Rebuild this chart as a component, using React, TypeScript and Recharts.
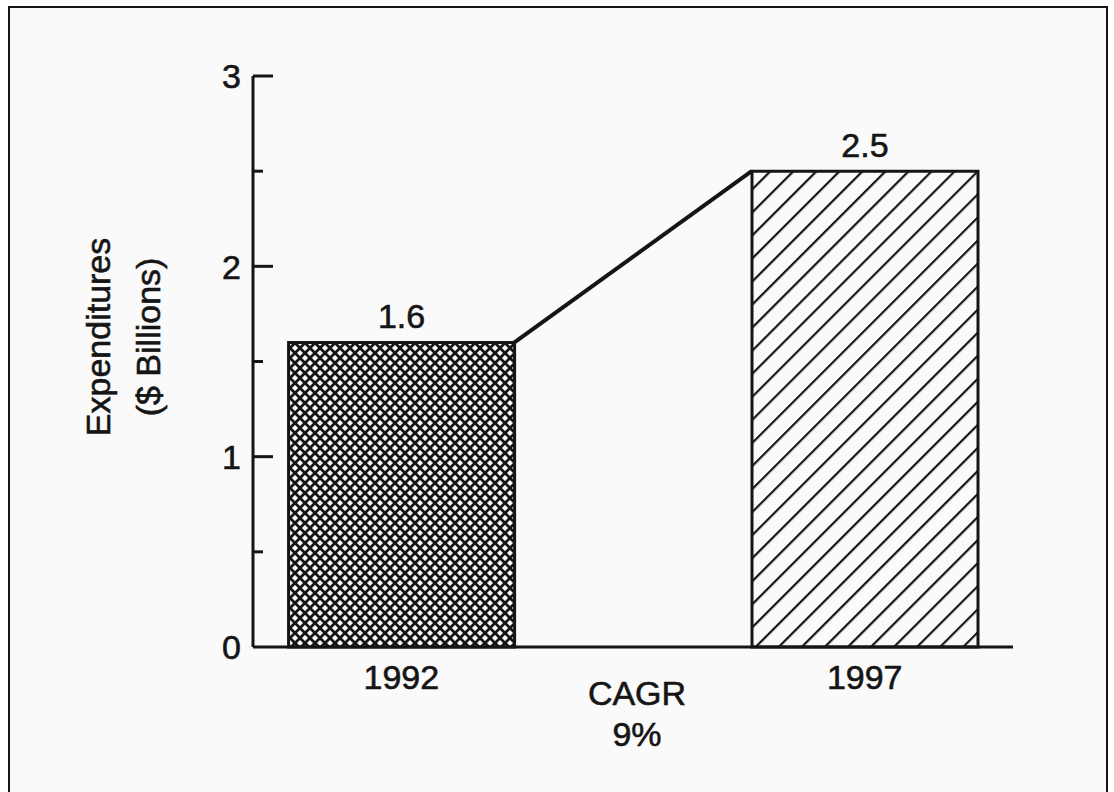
import React from "react";
import {
  ComposedChart,
  Bar,
  Cell,
  XAxis,
  YAxis,
  ReferenceLine,
  ReferenceDot,
  LabelList,
} from "recharts";

// values
const years = [1992, 1997];
const expenditures = [1.6, 2.5];
const yTicks = [0, 0.5, 1, 1.5, 2, 2.5, 3];
const cagrText = ["CAGR", "9%"];

const data = years.map((year, i) => ({ year, value: expenditures[i] }));

const FONT = "'Liberation Sans', Arial, Helvetica, sans-serif";
const INK = "#151515";
const PAPER = "#fafafa";
const FS = 34;
const TXT_STROKE = 0.6;
const BAR_SIZE = 226;
// half a bar expressed in years (plot is ~92.7px per year)
const HALF_BAR_YEARS = 1.22;
const Y_TICK_MARGIN = 12;

const YTick = (props: any) => {
  const { x, y, payload } = props;
  const axisX = x + Y_TICK_MARGIN;
  const v = payload.value;
  const major = Number.isInteger(v);
  return (
    <g>
      {v > 0 && (
        <line
          x1={axisX}
          x2={axisX + (major ? 20 : 10)}
          y1={y}
          y2={y}
          stroke={INK}
          strokeWidth={3}
        />
      )}
      {major && (
        <text
          x={x}
          y={y}
          dy="0.36em"
          textAnchor="end"
          fontSize={FS}
          fontFamily={FONT}
          fill={INK}
          stroke={INK}
          strokeWidth={TXT_STROKE}
        >
          {v}
        </text>
      )}
    </g>
  );
};

const XTick = (props: any) => {
  const { x, y, payload } = props;
  return (
    <text
      x={x}
      y={y + 42}
      textAnchor="middle"
      fontSize={FS}
      fontFamily={FONT}
      fill={INK}
      stroke={INK}
      strokeWidth={TXT_STROKE}
    >
      {payload.value}
    </text>
  );
};

const YLabel = (props: any) => {
  const { viewBox } = props;
  const cy = viewBox.y + viewBox.height * 0.457;
  const x1 = viewBox.x + 17;
  const x2 = viewBox.x + 67;
  return (
    <g fontSize={FS} fontFamily={FONT} fill={INK} stroke={INK} strokeWidth={TXT_STROKE}>
      <text x={x1} y={cy} textAnchor="middle" transform={`rotate(-90 ${x1} ${cy})`}>
        Expenditures
      </text>
      <text x={x2} y={cy} textAnchor="middle" transform={`rotate(-90 ${x2} ${cy})`}>
        ($ Billions)
      </text>
    </g>
  );
};

const CagrLabel = (props: any) => {
  const { viewBox } = props;
  const cx = viewBox.x + viewBox.width / 2 + 4;
  const cy = viewBox.y + viewBox.height / 2;
  return (
    <g fontSize={FS} fontFamily={FONT} fill={INK} stroke={INK} strokeWidth={TXT_STROKE} textAnchor="middle">
      <text x={cx} y={cy + 58}>{cagrText[0]}</text>
      <text x={cx} y={cy + 99}>{cagrText[1]}</text>
    </g>
  );
};

export default function App() {
  return (
    <div
      style={{
        position: "fixed",
        left: 8,
        top: 6,
        width: 1100,
        height: 800,
        border: `2px solid ${INK}`,
        background: PAPER,
        boxSizing: "border-box",
      }}
    >
      <svg width={0} height={0} style={{ position: "absolute" }}>
        <defs>
          <pattern id="crossHatch" patternUnits="userSpaceOnUse" width={10} height={10}>
            <rect width={10} height={10} fill={PAPER} />
            <line x1={0} y1={0} x2={10} y2={10} stroke={INK} strokeWidth={2.7} />
            <line x1={10} y1={0} x2={0} y2={10} stroke={INK} strokeWidth={2.7} />
          </pattern>
          <pattern
            id="diagHatch"
            patternUnits="userSpaceOnUse"
            width={16.3}
            height={16.3}
            patternTransform="rotate(45)"
          >
            <rect width={16.3} height={16.3} fill={PAPER} />
            <line x1={1} y1={0} x2={1} y2={16.3} stroke={INK} strokeWidth={2.4} />
          </pattern>
        </defs>
      </svg>
      <ComposedChart
        width={1096}
        height={780}
        data={data}
        margin={{ top: 68, right: 93, bottom: 81, left: 83 }}
      >
        <XAxis
          dataKey="year"
          type="number"
          domain={[1990.4, 1998.6]}
          ticks={years}
          interval={0}
          tickLine={false}
          tickSize={0}
          tickMargin={0}
          tick={<XTick />}
          axisLine={{ stroke: INK, strokeWidth: 3 }}
          height={60}
        />
        <YAxis
          type="number"
          domain={[0, 3]}
          ticks={yTicks}
          interval={0}
          width={160}
          tickLine={false}
          tickSize={0}
          tickMargin={Y_TICK_MARGIN}
          tick={<YTick />}
          axisLine={{ stroke: INK, strokeWidth: 3 }}
          label={<YLabel />}
        />
        <Bar
          dataKey="value"
          barSize={BAR_SIZE}
          stroke={INK}
          strokeWidth={3}
          isAnimationActive={false}
        >
          <Cell fill="url(#crossHatch)" />
          <Cell fill="url(#diagHatch)" />
          <LabelList
            dataKey="value"
            position="top"
            offset={14}
            fontSize={FS}
            fontFamily={FONT}
            fill={INK}
            stroke={INK}
            strokeWidth={TXT_STROKE}
          />
        </Bar>
        <ReferenceLine
          segment={[
            { x: years[0] + HALF_BAR_YEARS, y: expenditures[0] },
            { x: years[1] - HALF_BAR_YEARS, y: expenditures[1] },
          ]}
          stroke={INK}
          strokeWidth={4}
        />
        <ReferenceDot
          x={(years[0] + years[1]) / 2}
          y={0}
          r={1}
          fill="none"
          stroke="none"
          label={<CagrLabel />}
        />
      </ComposedChart>
    </div>
  );
}
